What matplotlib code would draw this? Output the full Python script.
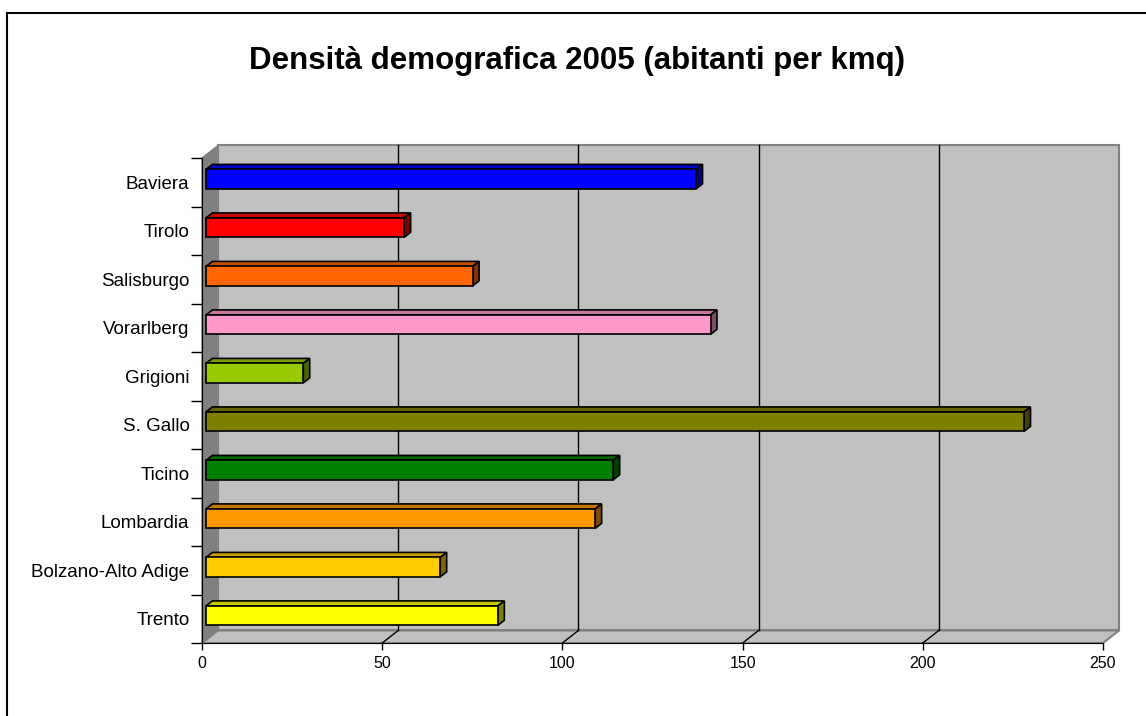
import numpy as np
import matplotlib
matplotlib.use("Agg")
import matplotlib.pyplot as plt
from matplotlib.patches import Polygon
from matplotlib.lines import Line2D
from matplotlib.colors import to_rgb

plt.rcParams['font.family'] = ['Liberation Sans', 'DejaVu Sans']

# data, top to bottom as shown
regions = ["Baviera", "Tirolo", "Salisburgo", "Vorarlberg", "Grigioni",
           "S. Gallo", "Ticino", "Lombardia", "Bolzano-Alto Adige", "Trento"]
density = [136, 55, 74, 140, 27, 227, 113, 108, 65, 81]
bar_colors = ["#0000FF", "#FF0000", "#FF6600", "#FF99CC", "#99CC00",
              "#808000", "#008000", "#FF9900", "#FFCC00", "#FFFF00"]
xticks = [0, 50, 100, 150, 200, 250]

W, H = 1146, 716
fig = plt.figure(figsize=(W / 100, H / 100), dpi=100)
fig.patch.set_facecolor("white")

# front plane of the 3d box
ax = fig.add_axes([202 / W, (H - 643) / H, 901 / W, 485 / H])
xmax = 250
n = len(regions)
ax.set_xlim(0, xmax)
ax.set_ylim(0, n)
ax.patch.set_visible(False)

# depth vector (data units)
dx, dy = 4.44, 0.258

# walls and floor
side = Polygon([(0, 0), (0, n), (dx, n + dy), (dx, dy)], closed=True,
               facecolor="#808080", edgecolor="#808080", lw=1, clip_on=False, zorder=1)
back = Polygon([(dx, dy), (xmax + dx, dy), (xmax + dx, n + dy), (dx, n + dy)], closed=True,
               facecolor="#C0C0C0", edgecolor="#808080", lw=1.5, clip_on=False, zorder=1)
floor = Polygon([(0, 0), (xmax, 0), (xmax + dx, dy), (dx, dy)], closed=True,
                facecolor="#C0C0C0", edgecolor="#808080", lw=1.5, clip_on=False, zorder=1)
for p in (side, back, floor):
    ax.add_patch(p)

# gridlines on the back wall and floor
for v in xticks[1:-1]:
    ax.plot([v + dx, v + dx], [dy, n + dy], color="black", lw=1, clip_on=False, zorder=2)
    ax.plot([v, v + dx], [0, dy], color="black", lw=1, clip_on=False, zorder=2)

# 3d bars
a, b = 0.25, 0.65
half = 0.2
for i, (val, col) in enumerate(zip(density, bar_colors)):
    yc = n - 1 - i + 0.5
    base = np.array(to_rgb(col))
    top_c = base * 0.78
    side_c = base * 0.5
    x0, x1 = a * dx, val + a * dx
    y0, y1 = yc - half + a * dy, yc + half + a * dy
    ox, oy = (b - a) * dx, (b - a) * dy
    front = Polygon([(x0, y0), (x1, y0), (x1, y1), (x0, y1)], closed=True,
                    facecolor=base, edgecolor="black", lw=1.2, clip_on=False, zorder=4)
    top = Polygon([(x0, y1), (x1, y1), (x1 + ox, y1 + oy), (x0 + ox, y1 + oy)], closed=True,
                  facecolor=top_c, edgecolor="black", lw=1.2, clip_on=False, zorder=3)
    rside = Polygon([(x1, y0), (x1 + ox, y0 + oy), (x1 + ox, y1 + oy), (x1, y1)], closed=True,
                    facecolor=side_c, edgecolor="black", lw=1.2, clip_on=False, zorder=3)
    for p in (top, rside, front):
        ax.add_patch(p)

# axes
for s in ("top", "right"):
    ax.spines[s].set_visible(False)
ax.spines["left"].set_color("black")
ax.spines["bottom"].set_color("black")
ax.spines["left"].set_zorder(5)
ax.spines["bottom"].set_zorder(5)

ax.set_xticks(xticks)
ax.set_xticklabels([str(t) for t in xticks])
ax.tick_params(axis="x", direction="out", length=5, width=1, pad=4, labelsize=11.5)

ax.set_yticks(np.arange(0, n + 1))
ax.set_yticklabels([])
ax.set_yticks(np.arange(n) + 0.5, minor=True)
ax.set_yticklabels(regions[::-1], minor=True)
ax.tick_params(axis="y", which="major", direction="out", length=8, width=1)
ax.tick_params(axis="y", which="minor", length=0, pad=9, labelsize=13.5)

fig.text(577 / W, 1 - 61 / H, "Densità demografica 2005 (abitanti per kmq)",
         ha="center", va="center", fontsize=22.5, fontweight="bold")

# outer frame (only top and left edges visible in the picture)
fig.add_artist(Line2D([7 / W, 7 / W], [0, 1 - 13 / H], transform=fig.transFigure,
                      color="black", lw=1.5))
fig.add_artist(Line2D([7 / W, 1], [1 - 13 / H, 1 - 13 / H], transform=fig.transFigure,
                      color="black", lw=1.5))

fig.savefig("out.png", dpi=100)
